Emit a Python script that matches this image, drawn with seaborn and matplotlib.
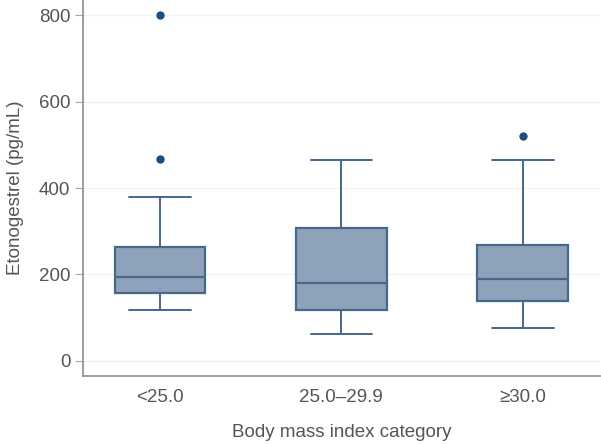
import matplotlib
matplotlib.use('Agg')
import matplotlib.pyplot as plt
import seaborn as sns

# summary values (pg/mL)
categories = ['<25.0', '25.0\u201329.9', '\u226530.0']
whisker_low = [118, 62, 76]
q1 = [157, 118, 139]
median = [194, 180, 190]
q3 = [263, 307, 268]
whisker_high = [379, 465, 465]
outliers = [[467, 800], [], [520]]

sns.set_style('white')
plt.rcParams['font.family'] = ['Liberation Sans', 'DejaVu Sans']

face = '#8ea3ba'
edge = '#46688b'
dot = '#1f4e79'
text = '#555555'

stats = []
for i, name in enumerate(categories):
    stats.append({'label': name, 'whislo': whisker_low[i], 'q1': q1[i],
                  'med': median[i], 'q3': q3[i], 'whishi': whisker_high[i],
                  'fliers': outliers[i]})

fig = plt.figure(figsize=(6.01, 4.44), dpi=100)
ax = fig.add_axes([0.138, 0.153, 0.86, 0.847])

ax.bxp(stats, positions=range(len(categories)), widths=0.5,
       patch_artist=True,
       boxprops=dict(facecolor=face, edgecolor=edge, linewidth=1.6),
       medianprops=dict(color=edge, linewidth=1.6),
       whiskerprops=dict(color=edge, linewidth=1.4),
       capprops=dict(color=edge, linewidth=1.4),
       capwidths=0.34,
       flierprops=dict(marker='o', markersize=5, markerfacecolor=dot,
                       markeredgecolor=dot))

ax.set_xlim(-0.425, 2.425)
ax.set_ylim(-35, 835)
ax.set_yticks([0, 200, 400, 600, 800])
ax.yaxis.grid(True, color='#edf3f6', linewidth=0.9)
ax.set_axisbelow(True)

sns.despine(ax=ax)
for s in ['left', 'bottom']:
    ax.spines[s].set_color('#8c8c8c')
    ax.spines[s].set_linewidth(1.2)

ax.tick_params(axis='y', length=6, width=0.8, color='#aaaaaa',
               labelsize=13.5, labelcolor=text, pad=3, left=True)
ax.tick_params(axis='x', length=0, labelsize=13.5, labelcolor=text, pad=9)

ax.set_xlabel('Body mass index category', fontsize=13.5, color=text,
              labelpad=13)
ax.set_ylabel('Etonogestrel (pg/mL)', fontsize=13.5, color=text,
              labelpad=11)

fig.savefig('out.png', dpi=100)
